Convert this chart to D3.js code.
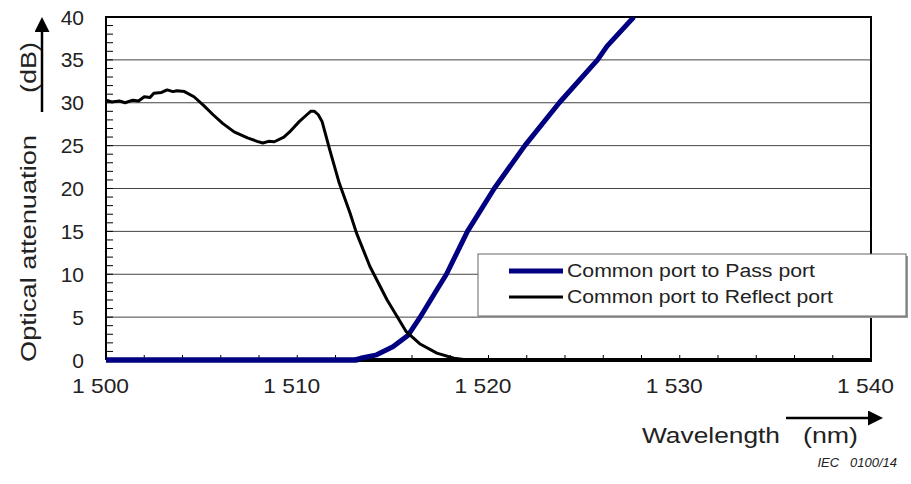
<!DOCTYPE html>
<html>
<head>
<meta charset="utf-8">
<script src="https://cdn.jsdelivr.net/npm/d3@7"></script>
<style>
  body { margin: 0; background: #fff; }
  text { font-family: "Liberation Sans", Arial, sans-serif; fill: #222; white-space: pre; }
</style>
</head>
<body>
<div id="chart"></div>
<script>
// DATA
const xTicks = [1500, 1510, 1520, 1530, 1540];
const yTicks = [0, 5, 10, 15, 20, 25, 30, 35, 40];

const reflectWl = [1500.0, 1500.3, 1500.7, 1501.0, 1501.4, 1501.7, 1502.0, 1502.3, 1502.5, 1502.9, 1503.2, 1503.5, 1503.7, 1504.1,
  1504.6, 1505.1, 1505.6, 1506.1, 1506.7, 1507.4, 1507.9, 1508.2, 1508.5, 1508.8, 1509.3, 1509.6, 1510.1, 1510.5, 1510.7,
  1510.9, 1511.1, 1511.3, 1511.7, 1512.2, 1512.75, 1513.1, 1513.8, 1514.7, 1515.7, 1516.4, 1517.3, 1518.2, 1518.9, 1540];
const reflectDb = [30.3, 30.1, 30.2, 30.0, 30.3, 30.2, 30.7, 30.6, 31.1, 31.2, 31.5, 31.3, 31.4, 31.3,
  30.7, 29.7, 28.6, 27.6, 26.6, 25.9, 25.5, 25.3, 25.5, 25.45, 26.0, 26.6, 27.8, 28.6, 29.0,
  29.0, 28.6, 27.8, 24.5, 20.6, 17.2, 14.8, 10.9, 7.0, 3.3, 1.9, 0.8, 0.2, 0.0, 0.0];

const passWl = [1500, 1513.0, 1513.3, 1514.15, 1515.0, 1515.8, 1516.4, 1517.3, 1517.8, 1518.9, 1520.3,
  1521.9, 1523.7, 1525.7, 1526.2, 1527.6];
const passDb = [0, 0, 0.2, 0.6, 1.55, 2.9, 4.9, 8.2, 10.0, 15.0, 20.0,
  25.0, 30.0, 35.0, 36.6, 40.0];

const seriesNames = ['Common port to Pass port', 'Common port to Reflect port'];
const seriesColors = ['#000080', '#000000'];

// LAYOUT
const width = 911, height = 484;
const margin = { top: 17, right: 40, bottom: 124, left: 106 };
const plotW = width - margin.left - margin.right;   // 765
const plotH = height - margin.top - margin.bottom;  // 343

const svg = d3.select('#chart').append('svg')
  .attr('width', width).attr('height', height);

const x = d3.scaleLinear().domain([1500, 1540]).range([margin.left, margin.left + plotW]);
const y = d3.scaleLinear().domain([0, 40]).range([margin.top + plotH, margin.top]);

// GRID
svg.append('g').selectAll('line')
  .data(yTicks.filter(d => d > 0 && d < 40))
  .join('line')
  .attr('x1', x(1500)).attr('x2', x(1540))
  .attr('y1', d => y(d)).attr('y2', d => y(d))
  .attr('stroke', '#444').attr('stroke-width', 1);

// MINOR TICKS (inside)
svg.append('g').selectAll('line')
  .data(d3.range(1, 40))
  .join('line')
  .attr('x1', x(1500)).attr('x2', x(1500) + 7)
  .attr('y1', d => y(d)).attr('y2', d => y(d))
  .attr('stroke', '#000').attr('stroke-width', 1);

svg.append('g').selectAll('line')
  .data(d3.range(1502, 1540, 2))
  .join('line')
  .attr('x1', d => x(d)).attr('x2', d => x(d))
  .attr('y1', y(0)).attr('y2', y(0) - 5)
  .attr('stroke', '#000').attr('stroke-width', 1);

// FRAME
svg.append('path')
  .attr('d', `M${x(1500)},${y(0)} V${y(40)} H${x(1540)} V${y(0)}`)
  .attr('fill', 'none').attr('stroke', '#000').attr('stroke-width', 2);
svg.append('line')
  .attr('x1', x(1500)).attr('x2', x(1540) + 1)
  .attr('y1', y(0)).attr('y2', y(0))
  .attr('stroke', '#000').attr('stroke-width', 4);

// CURVES
svg.append('defs').append('clipPath').attr('id', 'clip')
  .append('rect').attr('x', x(1500) - 3).attr('y', y(40))
  .attr('width', plotW + 6).attr('height', plotH + 4);

const line = d3.line().x(d => x(d[0])).y(d => y(d[1]));

svg.append('path')
  .datum(passWl.map((w, i) => [w, passDb[i]]))
  .attr('clip-path', 'url(#clip)')
  .attr('d', line)
  .attr('fill', 'none').attr('stroke', seriesColors[0]).attr('stroke-width', 5)
  .attr('stroke-linejoin', 'round');

svg.append('path')
  .datum(reflectWl.map((w, i) => [w, reflectDb[i]]))
  .attr('clip-path', 'url(#clip)')
  .attr('d', line)
  .attr('fill', 'none').attr('stroke', seriesColors[1]).attr('stroke-width', 3)
  .attr('stroke-linejoin', 'round');

// blue flat part sits on top of the axis at 0
svg.append('line')
  .attr('x1', x(1500)).attr('x2', x(1513.2))
  .attr('y1', y(0)).attr('y2', y(0))
  .attr('stroke', seriesColors[0]).attr('stroke-width', 5);

// TICK LABELS
svg.append('g').selectAll('text')
  .data(yTicks)
  .join('text')
  .attr('x', 84).attr('y', d => y(d) + 2)
  .attr('text-anchor', 'end').attr('dominant-baseline', 'middle')
  .style('font-size', '21px')
  .text(d => d);

const fmt = d => { const s = String(d); return s[0] + ' ' + s.slice(1); };
svg.append('g').selectAll('text')
  .data(xTicks)
  .join('text')
  .attr('x', d => x(d) - 34).attr('y', 393)
  .attr('textLength', 57).attr('lengthAdjust', 'spacingAndGlyphs')
  .style('font-size', '21px')
  .text(fmt);

// AXIS TITLES
svg.append('text')
  .attr('transform', 'translate(36,362) rotate(-90)')
  .attr('textLength', 227).attr('lengthAdjust', 'spacingAndGlyphs')
  .style('font-size', '22px')
  .text('Optical attenuation');
svg.append('text')
  .attr('transform', 'translate(36,93) rotate(-90)')
  .attr('textLength', 51).attr('lengthAdjust', 'spacingAndGlyphs')
  .style('font-size', '22px')
  .text('(dB)');

svg.append('defs').append('marker')
  .attr('id', 'arrow').attr('viewBox', '0 0 10 10')
  .attr('refX', 0).attr('refY', 5)
  .attr('markerWidth', 6).attr('markerHeight', 6)
  .attr('orient', 'auto')
  .append('path').attr('d', 'M0,0 L10,5 L0,10 Z').attr('fill', '#000');

svg.append('line')
  .attr('x1', 42).attr('y1', 112).attr('x2', 42).attr('y2', 32)
  .attr('stroke', '#000').attr('stroke-width', 2.5)
  .attr('marker-end', 'url(#arrow)');

svg.append('text')
  .attr('x', 642).attr('y', 443)
  .attr('textLength', 138).attr('lengthAdjust', 'spacingAndGlyphs')
  .style('font-size', '22px')
  .text('Wavelength');
svg.append('text')
  .attr('x', 803).attr('y', 443)
  .attr('textLength', 55).attr('lengthAdjust', 'spacingAndGlyphs')
  .style('font-size', '22px')
  .text('(nm)');

svg.append('line')
  .attr('x1', 786).attr('y1', 418).attr('x2', 868).attr('y2', 418)
  .attr('stroke', '#000').attr('stroke-width', 2.5)
  .attr('marker-end', 'url(#arrow)');

svg.append('text')
  .attr('x', 897).attr('y', 467)
  .attr('text-anchor', 'end')
  .style('font-size', '13px').style('font-style', 'italic')
  .text('IEC   0100/14');

// LEGEND
const lg = svg.append('g').attr('transform', 'translate(478,254)');
lg.append('rect').attr('x', 2).attr('y', 2).attr('width', 428).attr('height', 62)
  .attr('fill', '#999');
lg.append('rect').attr('width', 428).attr('height', 62)
  .attr('fill', '#fff').attr('stroke', '#666').attr('stroke-width', 1);
const legendLen = [248, 266];
seriesNames.forEach((name, i) => {
  const yy = 17 + i * 26;
  lg.append('line').attr('x1', 31).attr('x2', 85).attr('y1', yy).attr('y2', yy)
    .attr('stroke', seriesColors[i]).attr('stroke-width', i === 0 ? 5 : 3);
  lg.append('text').attr('x', 89).attr('y', yy + 6)
    .attr('textLength', legendLen[i]).attr('lengthAdjust', 'spacingAndGlyphs')
    .style('font-size', '18px').text(name);
});
</script>
</body>
</html>
